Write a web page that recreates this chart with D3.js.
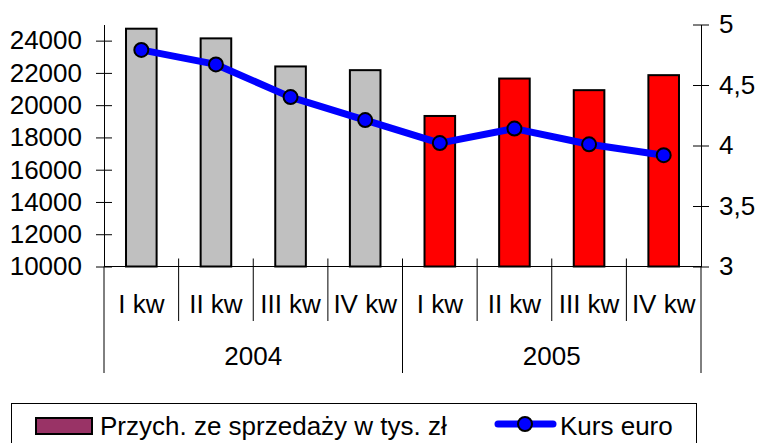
<!DOCTYPE html>
<html>
<head>
<meta charset="utf-8">
<script src="https://cdn.jsdelivr.net/npm/d3@7"></script>
<style>
    body { margin: 0; background: #fff; }
    svg text { font-family: "Liberation Sans", Arial, sans-serif; font-size: 26px; fill: #000; }
</style>
</head>
<body>
<div id="chart"></div>
<script>
// Chart data
const years = ["2004", "2005"];
const quarters = ["I kw", "II kw", "III kw", "IV kw"];
const sales = [24740, 24140, 22400, 22170, 19330, 21650, 20930, 21860]; // tys. zł
const euro = [4.79, 4.67, 4.40, 4.21, 4.02, 4.14, 4.01, 3.92];
const leftTicks = [10000, 12000, 14000, 16000, 18000, 20000, 22000, 24000];
const rightTicks = [3, 3.5, 4, 4.5, 5];
const yearColors = ["#c0c0c0", "#ff0000"];
const legendLabels = ["Przych. ze sprzedaży w tys. zł", "Kurs euro"];

const width = 757, height = 443;
const plot = { left: 104, right: 701, top: 24.5, bottom: 266.5 };

// one row per bar: year + quarter
const rows = [];
years.forEach((y, yi) => quarters.forEach((q, qi) => {
    rows.push({ year: y, yi: yi, quarter: q, i: yi * quarters.length + qi });
}));

const svg = d3.select("#chart")
    .append("svg")
    .attr("width", width)
    .attr("height", height);

// Scales
const x = d3.scaleBand()
    .domain(d3.range(rows.length))
    .range([plot.left, plot.right])
    .padding(0);

const yLeft = d3.scaleLinear()
    .domain([10000, 25000])
    .range([plot.bottom, plot.top]);

const yRight = d3.scaleLinear()
    .domain([3, 5])
    .range([plot.bottom, plot.top]);

const barW = x.bandwidth() * 0.41;

// Bars
svg.selectAll("rect.bar")
    .data(rows)
    .enter().append("rect")
    .attr("class", "bar")
    .attr("x", d => x(d.i) + (x.bandwidth() - barW) / 2)
    .attr("y", d => yLeft(sales[d.i]))
    .attr("width", barW)
    .attr("height", d => yLeft(10000) - yLeft(sales[d.i]))
    .attr("fill", d => yearColors[d.yi])
    .attr("stroke", "#000")
    .attr("stroke-width", 2);

// Left axis (ticks cross the line)
const leftAxis = svg.append("g")
    .attr("transform", `translate(${plot.left},0)`)
    .call(d3.axisLeft(yLeft).tickValues(leftTicks).tickSizeInner(8).tickSizeOuter(0).tickPadding(14)
        .tickFormat(d3.format("d")));
leftAxis.selectAll(".tick line").attr("x1", 8).attr("x2", -8);

// Right axis
const rightAxis = svg.append("g")
    .attr("transform", `translate(${plot.right},0)`)
    .call(d3.axisRight(yRight).tickValues(rightTicks).tickSizeInner(8).tickSizeOuter(0).tickPadding(10)
        .tickFormat(d => String(d).replace(".", ",")));
rightAxis.selectAll(".tick line").attr("x1", -8).attr("x2", 8);

[leftAxis, rightAxis].forEach(g => {
    g.attr("font-family", null).attr("font-size", null);
    g.selectAll("path, line").attr("stroke", "#000");
});

// Category axis
const catAxis = svg.append("g");
catAxis.append("line")
    .attr("x1", plot.left).attr("x2", plot.right)
    .attr("y1", plot.bottom).attr("y2", plot.bottom)
    .attr("stroke", "#000");

// dividers between quarters and years
const bounds = d3.range(rows.length + 1);
catAxis.selectAll("line.div")
    .data(bounds)
    .enter().append("line")
    .attr("class", "div")
    .attr("x1", i => i === rows.length ? plot.right : x(i))
    .attr("x2", i => i === rows.length ? plot.right : x(i))
    .attr("y1", i => (i === 0 || i === rows.length) ? plot.bottom : plot.bottom - 8)
    .attr("y2", i => i % quarters.length === 0 ? 373 : 321)
    .attr("stroke", "#000");

catAxis.selectAll("text.quarter")
    .data(rows)
    .enter().append("text")
    .attr("class", "quarter")
    .attr("x", d => x(d.i) + x.bandwidth() / 2)
    .attr("y", 313)
    .attr("text-anchor", "middle")
    .text(d => d.quarter);

catAxis.selectAll("text.year")
    .data(years)
    .enter().append("text")
    .attr("class", "year")
    .attr("x", (d, yi) => (x(yi * 4) + x(yi * 4 + 3) + x.bandwidth()) / 2)
    .attr("y", 365)
    .attr("text-anchor", "middle")
    .text(d => d);

// Euro line
const line = d3.line()
    .x((d, i) => x(i) + x.bandwidth() / 2)
    .y(d => yRight(d));

svg.append("path")
    .datum(euro)
    .attr("d", line)
    .attr("fill", "none")
    .attr("stroke", "#0000ff")
    .attr("stroke-width", 7)
    .attr("stroke-linejoin", "round");

svg.selectAll("circle.pt")
    .data(euro)
    .enter().append("circle")
    .attr("class", "pt")
    .attr("cx", (d, i) => x(i) + x.bandwidth() / 2)
    .attr("cy", d => yRight(d))
    .attr("r", 7)
    .attr("fill", "#0000ff")
    .attr("stroke", "#000")
    .attr("stroke-width", 2);

// Legend
const legend = svg.append("g");
legend.append("rect")
    .attr("x", 11.5).attr("y", 403.5)
    .attr("width", 685).attr("height", 60)
    .attr("fill", "#fff")
    .attr("stroke", "#000");

legend.append("rect")
    .attr("x", 36).attr("y", 418)
    .attr("width", 56).attr("height", 16)
    .attr("fill", "#993366")
    .attr("stroke", "#000")
    .attr("stroke-width", 2);
legend.append("text")
    .attr("x", 100).attr("y", 435)
    .text(legendLabels[0]);

legend.append("line")
    .attr("x1", 498).attr("x2", 553)
    .attr("y1", 424).attr("y2", 424)
    .attr("stroke", "#0000ff")
    .attr("stroke-width", 7)
    .attr("stroke-linecap", "round");
legend.append("circle")
    .attr("cx", 525).attr("cy", 424)
    .attr("r", 7)
    .attr("fill", "#0000ff")
    .attr("stroke", "#000")
    .attr("stroke-width", 2);
legend.append("text")
    .attr("x", 560).attr("y", 435)
    .text(legendLabels[1]);
</script>
</body>
</html>
